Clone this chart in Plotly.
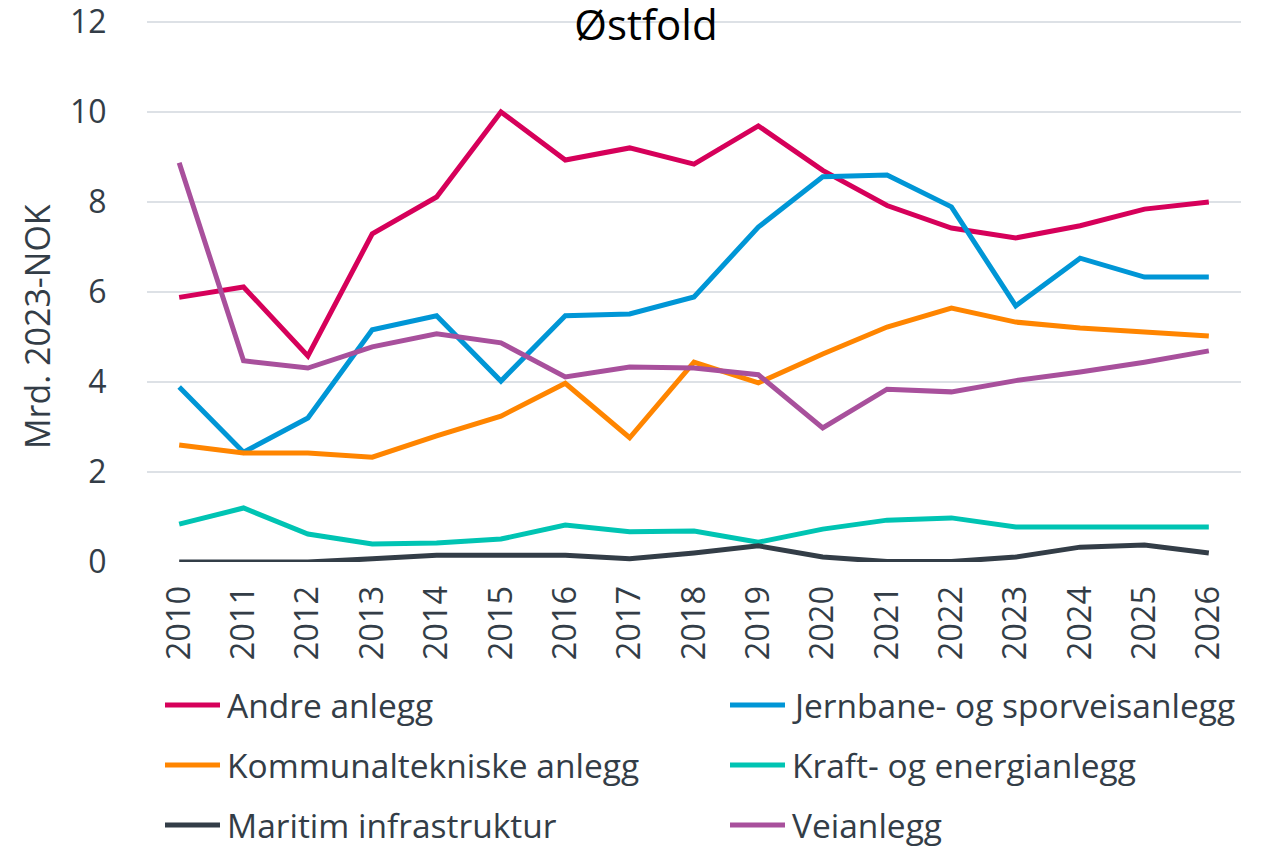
import plotly.graph_objects as go

years = [str(y) for y in range(2010, 2027)]

andre_anlegg = [5.88, 6.11, 4.58, 7.29, 8.11, 10.0, 8.93, 9.2, 8.84, 9.69, 8.7, 7.92, 7.42, 7.2, 7.47, 7.84, 8.0]
jernbane = [3.89, 2.44, 3.2, 5.16, 5.47, 4.02, 5.47, 5.51, 5.89, 7.44, 8.56, 8.6, 7.89, 5.69, 6.75, 6.33, 6.33]
kommunal = [2.6, 2.42, 2.42, 2.33, 2.8, 3.24, 3.97, 2.76, 4.44, 3.98, 4.62, 5.22, 5.64, 5.33, 5.2, 5.11, 5.02]
kraft = [0.84, 1.2, 0.62, 0.4, 0.42, 0.51, 0.82, 0.67, 0.69, 0.44, 0.73, 0.93, 0.98, 0.78, 0.78, 0.78, 0.78]
maritim = [0.0, 0.0, 0.0, 0.07, 0.15, 0.15, 0.15, 0.07, 0.2, 0.36, 0.11, 0.01, 0.01, 0.11, 0.33, 0.38, 0.2]
veianlegg = [8.87, 4.47, 4.31, 4.78, 5.07, 4.87, 4.11, 4.33, 4.31, 4.16, 2.98, 3.84, 3.78, 4.03, 4.22, 4.44, 4.69]

series_names = ["Andre anlegg", "Jernbane- og sporveisanlegg", "Kommunaltekniske anlegg",
                "Kraft- og energianlegg", "Maritim infrastruktur", "Veianlegg"]
series_values = [andre_anlegg, jernbane, kommunal, kraft, maritim, veianlegg]
series_colors = ["#D6005A", "#0096D6", "#FF8500", "#00C4B3", "#333D47", "#A8509C"]

y_ticks = [0, 2, 4, 6, 8, 10, 12]
y_max = 12.02

FONT = "Open Sans"
TXT = "#333D47"
GRID = "#DDE1E6"

fig = go.Figure()
for name, vals, col in zip(series_names, series_values, series_colors):
    fig.add_trace(go.Scatter(x=years, y=vals, name=name, mode="lines",
                             line=dict(color=col, width=5), showlegend=False))

# page has an 8px body margin: compensate so the chart sits where the reference does
OFF = 8
W, H = 1261 - OFF, 846 - OFF
zero_px, unit_px = 562, 45.0
top_px = zero_px - y_max * unit_px
L, R = 147 - OFF, 20
T = top_px - OFF
B = H - (zero_px - OFF)
pw, ph = W - L - R, H - T - B

def px_to_paper(x, y):
    # x, y are pixel positions in the 1261x846 window
    x -= OFF
    y -= OFF
    return (x - L) / pw, (H - B - y) / ph

# top gridline (plotly skips the one at the range edge)
fig.add_shape(type="line", xref="paper", yref="y", x0=0, x1=1, y0=y_ticks[-1], y1=y_ticks[-1],
              line=dict(color=GRID, width=2), layer="below")

col_x = [165, 730]
row_y = [705, 765, 825]
for i, (name, col) in enumerate(zip(series_names, series_colors)):
    cx = col_x[i % 2]
    ry = row_y[i // 2]
    x0, y0 = px_to_paper(cx, ry)
    x1, _ = px_to_paper(cx + 55, ry)
    xt, _ = px_to_paper(cx + 60, ry)
    fig.add_shape(type="line", xref="paper", yref="paper", x0=x0, x1=x1, y0=y0, y1=y0,
                  line=dict(color=col, width=5))
    fig.add_annotation(xref="paper", yref="paper", x=xt, y=y0, text=name, showarrow=False,
                       xanchor="left", yanchor="middle",
                       font=dict(family=FONT, size=33.5, color=TXT))

# y-axis title
ax_x, ax_y = px_to_paper(37, 327)
fig.add_annotation(xref="paper", yref="paper", x=ax_x, y=ax_y, text="Mrd. 2023-NOK",
                   showarrow=False, textangle=-90, xanchor="center", yanchor="middle",
                   font=dict(family=FONT, size=34, color=TXT))

tx, _ = px_to_paper(646, 24)
fig.update_layout(
    width=W, height=H,
    margin=dict(l=L, r=R, t=T, b=B, autoexpand=False),
    paper_bgcolor="white", plot_bgcolor="white",
    title=dict(text="Østfold", x=tx, xref="paper", xanchor="center",
               y=(H - (25 - OFF)) / H, yanchor="middle",
               font=dict(family=FONT, size=42, color="#000000")),
    xaxis=dict(type="category", range=[-0.5, 16.5], tickangle=-90,
               showgrid=False, showline=False, zeroline=False,
               ticks="outside", ticklen=10, tickcolor="rgba(0,0,0,0)",
               tickfont=dict(family=FONT, size=32.5, color=TXT)),
    yaxis=dict(range=[0, y_max], tickvals=y_ticks, showgrid=True, gridcolor=GRID, gridwidth=2,
               zeroline=False, showline=False, ticklabeloverflow="allow",
               ticks="outside", ticklen=33, tickcolor="rgba(0,0,0,0)",
               tickfont=dict(family=FONT, size=32, color=TXT)),
)

fig.write_html("out.html")
